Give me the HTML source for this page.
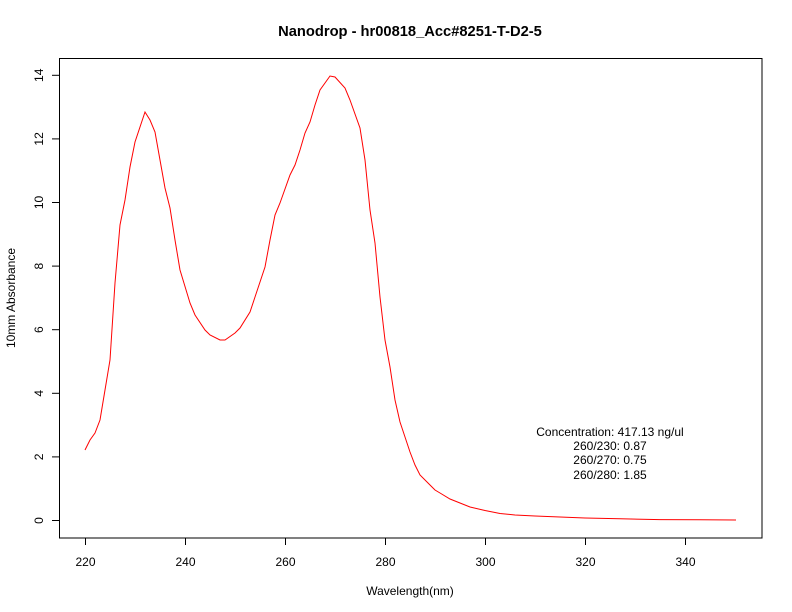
<!DOCTYPE html>
<html><head><meta charset="utf-8"><style>body{margin:0;background:#fff}svg{display:block}</style></head><body>
<svg width="792" height="612" viewBox="0 0 792 612" xmlns="http://www.w3.org/2000/svg" font-family="Liberation Sans, sans-serif" font-size="12">
<rect width="792" height="612" fill="#fff"/>
<text x="410" y="36" text-anchor="middle" font-weight="bold" font-size="14.7">Nanodrop - hr00818_Acc#8251-T-D2-5</text>
<rect x="59.5" y="58.5" width="702.5" height="479.5" fill="none" stroke="#000" stroke-width="1"/>
<g stroke="#000">
<line x1="85.5" y1="538" x2="85.5" y2="545"/><line x1="185.5" y1="538" x2="185.5" y2="545"/><line x1="285.5" y1="538" x2="285.5" y2="545"/><line x1="385.5" y1="538" x2="385.5" y2="545"/><line x1="485.5" y1="538" x2="485.5" y2="545"/><line x1="585.5" y1="538" x2="585.5" y2="545"/><line x1="685.5" y1="538" x2="685.5" y2="545"/>
<line x1="52" y1="520.5" x2="59" y2="520.5"/><line x1="52" y1="456.9" x2="59" y2="456.9"/><line x1="52" y1="393.3" x2="59" y2="393.3"/><line x1="52" y1="329.7" x2="59" y2="329.7"/><line x1="52" y1="266.1" x2="59" y2="266.1"/><line x1="52" y1="202.5" x2="59" y2="202.5"/><line x1="52" y1="138.9" x2="59" y2="138.9"/><line x1="52" y1="75.3" x2="59" y2="75.3"/>
</g>
<g text-anchor="middle">
<text x="85.5" y="566">220</text><text x="185.5" y="566">240</text><text x="285.5" y="566">260</text><text x="385.5" y="566">280</text><text x="485.5" y="566">300</text><text x="585.5" y="566">320</text><text x="685.5" y="566">340</text>
<text x="410" y="595">Wavelength(nm)</text>
<g>
<text transform="translate(43,520.5) rotate(-90)">0</text><text transform="translate(43,456.9) rotate(-90)">2</text><text transform="translate(43,393.3) rotate(-90)">4</text><text transform="translate(43,329.7) rotate(-90)">6</text><text transform="translate(43,266.1) rotate(-90)">8</text><text transform="translate(43,202.5) rotate(-90)">10</text><text transform="translate(43,138.9) rotate(-90)">12</text><text transform="translate(43,75.3) rotate(-90)">14</text>
<text transform="translate(15,298) rotate(-90)">10mm Absorbance</text>
</g>
<text x="610" y="436">Concentration: 417.13 ng/ul</text>
<text x="610" y="450">260/230: 0.87</text>
<text x="610" y="464">260/270: 0.75</text>
<text x="610" y="479">260/280: 1.85</text>
</g>
<polyline fill="none" stroke="#f00" stroke-width="1" points="85,450 90,440 95,433 100,420 105,390 110,360 115,283 120,225 125,200 130,167 135,142 145,112 150,120 155,132 160,160 165,188 170,208 175,240 180,270 190,303 195,315 205,330 210,335 220,340 225,340 235,333 240,328 250,312 255,297 265,267 270,240 275,215 280,203 290,175 295,165 300,150 305,133 310,122 315,105 320,90 330,76 335,77 345,88 350,100 360,128 365,160 370,210 375,243 380,297 385,340 390,367 395,400 400,422 405,437 410,452 415,465 420,475 430,485 435,490 440,493 450,499 460,503 470,507 485,510.5 500,513.5 515,515 535,516 560,517 585,518 620,518.8 660,519.6 700,519.8 736,520"/>
</svg>
</body></html>
